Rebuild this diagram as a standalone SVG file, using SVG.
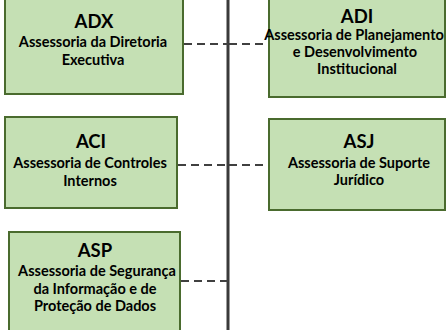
<svg xmlns="http://www.w3.org/2000/svg" width="446" height="330" viewBox="0 0 446 330">
<style>
.box{fill:#c5e0b4;stroke:#4a6b2e;stroke-width:2}
.t{font-family:Lato,"Liberation Sans",sans-serif;font-weight:bold;fill:#000;text-anchor:middle}
.h{font-size:18.5px}
.s{font-size:14.5px}
.dash{stroke:#404040;stroke-width:2;stroke-dasharray:8 5;fill:none}
.main{stroke:#3a3a3a;stroke-width:3;fill:none}
</style>
<rect width="446" height="330" fill="#fff"/>
<g id="connectors">
<line class="main" x1="228" y1="0" x2="228" y2="330"/>
<line class="dash" x1="184" y1="44" x2="228" y2="44"/>
<line class="dash" x1="229" y1="44" x2="268" y2="44"/>
<line class="dash" x1="178" y1="165" x2="228" y2="165"/>
<line class="dash" x1="229" y1="165" x2="268" y2="165"/>
<line class="dash" x1="181" y1="281" x2="228" y2="281"/>
</g>
<g id="ADX">
<rect class="box" x="5" y="-5" width="178" height="99"/>
<text class="t h" x="94" y="28">ADX</text>
<text class="t s" x="93" y="47">Assessoria da Diretoria</text>
<text class="t s" x="93" y="65">Executiva</text>
</g>
<g id="ADI">
<rect class="box" x="269" y="-5" width="176" height="102"/>
<text class="t h" x="357" y="23">ADI</text>
<text class="t s" x="354" y="40">Assessoria de Planejamento</text>
<text class="t s" x="355" y="57">e Desenvolvimento</text>
<text class="t s" x="357" y="74">Institucional</text>
</g>
<g id="ACI">
<rect class="box" x="5" y="117" width="172" height="91"/>
<text class="t h" x="91" y="148">ACI</text>
<text class="t s" x="90" y="168">Assessoria de Controles</text>
<text class="t s" x="90" y="186">Internos</text>
</g>
<g id="ASJ">
<rect class="box" x="269" y="119" width="176" height="91"/>
<text class="t h" x="359" y="148">ASJ</text>
<text class="t s" x="359" y="168">Assessoria de Suporte</text>
<text class="t s" x="359" y="185">Jurídico</text>
</g>
<g id="ASP">
<rect class="box" x="9" y="232" width="171" height="110"/>
<text class="t h" x="95" y="257">ASP</text>
<text class="t s" x="97" y="276">Assessoria de Segurança</text>
<text class="t s" x="95" y="294">da Informação e de</text>
<text class="t s" x="95" y="311">Proteção de Dados</text>
</g>
</svg>
